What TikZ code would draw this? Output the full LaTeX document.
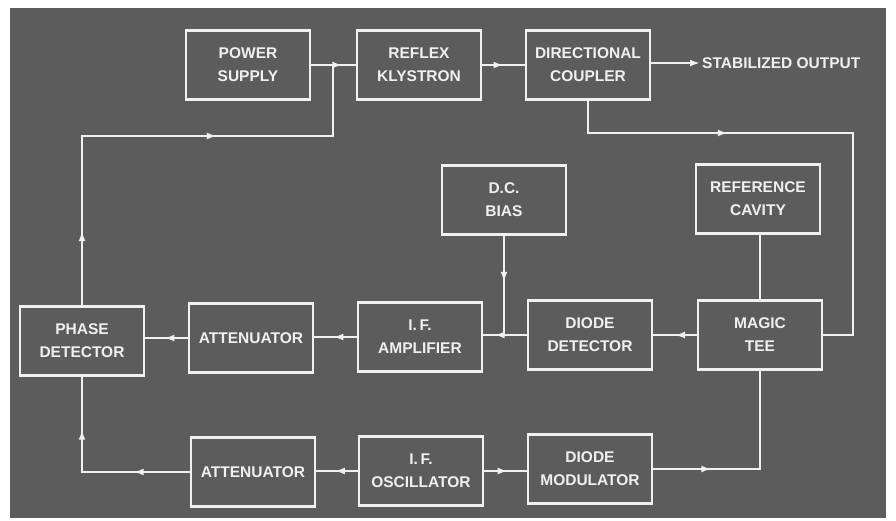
\documentclass[tikz,border=0pt]{standalone}
\usepackage{fontspec}
\setmainfont{Liberation Sans}
\usetikzlibrary{arrows.meta, positioning, decorations.markings}
\definecolor{panel}{RGB}{92,92,92}
\definecolor{chalk}{RGB}{240,240,240}

\begin{document}
\begin{tikzpicture}[
  x=1pt, y=-1pt,
  >={Latex[length=10pt,width=7pt]},
  every node/.style={font=\bfseries\fontsize{15.5}{23}\selectfont, text=chalk},
  % Node styles
  block/.style  = {rectangle, draw=chalk, line width=2.6pt,
                   minimum width=124pt, minimum height=69pt,
                   align=center, inner sep=2pt},
  % Arrow styles
  wire/.style   = {draw=chalk, line width=2pt},
  tipat/.style  = {postaction={decorate, decoration={markings,
                   mark=at position #1 with {\arrow{>}}}}},
  tipmid/.style = {tipat=0.5}
]
\useasboundingbox (0,0) rectangle (896,520);
\fill[panel] (10,8) rectangle (886,518);

% =========================== TOP ROW ===========================
\node[block] (ps)  at (248,65)  {POWER\\SUPPLY};
\node[block] (kly) at (419,65)  {REFLEX\\KLYSTRON};
\node[block] (dcp) at (588,65)  {DIRECTIONAL\\COUPLER};
\node[anchor=west, inner sep=2pt] (out) at (700,63) {STABILIZED OUTPUT};

\draw[wire, tipat=31pt] (ps.east) -- (ps.east -| kly.west);
\draw[wire, tipmid] (kly.east) -- (kly.east -| dcp.west);
\draw[wire, ->] (dcp.east |- out.west) -- (out.west);

% =========================== BIAS / CAVITY ===========================
\node[block] (bias) at (504,200) {D.C.\\BIAS};
\node[block] (cav)  at (758,199) {REFERENCE\\CAVITY};

% =========================== MIDDLE ROW ===========================
\node[block] (tee) at (760,335) {MAGIC\\TEE};
\node[block] (det) at (590,335) {DIODE\\DETECTOR};
\node[block] (ifa) at (420,337) {I.\,F.\\AMPLIFIER};
\node[block] (att) at (251,338) {ATTENUATOR};
\node[block] (phd) at (82,341)  {PHASE\\DETECTOR};

\coordinate (rtop) at (853,133);
\draw[wire, tipat=172pt] (dcp.south) |- (rtop) |- (tee.east);
\draw[wire] (cav.south -| tee.north) -- (tee.north);
\draw[wire, tipmid] (tee.west) -- (tee.west -| det.east);
\draw[wire, tipat=32pt] (det.west) -- (det.west -| ifa.east);
\draw[wire, tipat=46pt] (bias.south) -- (bias.south |- det.west);
\draw[wire, tipat=0.55] (ifa.west) -- (ifa.west -| att.east);
\draw[wire, tipat=0.55] (att.west) -- (att.west -| phd.east);

% feedback to the klystron line
\coordinate (jn)   at (333,65);
\coordinate (bend) at (333,136);
\draw[wire, tipat=74pt, tipat=304pt] (phd.north) |- (bend) -- (jn);

% =========================== BOTTOM ROW ===========================
\node[block] (atb) at (253,472) {ATTENUATOR};
\node[block] (ifo) at (421,471) {I.\,F.\\OSCILLATOR};
\node[block] (mod) at (590,469) {DIODE\\MODULATOR};

\draw[wire, tipat=0.55] (ifo.west) -- (ifo.west -| atb.east);
\draw[wire, tipat=0.55] (ifo.east) -- (ifo.east -| mod.west);
\draw[wire, tipat=56pt, tipat=150pt] (atb.west) -| (phd.south);
\draw[wire, tipat=58pt] (mod.east) -| (tee.south);

\end{tikzpicture}
\end{document}
